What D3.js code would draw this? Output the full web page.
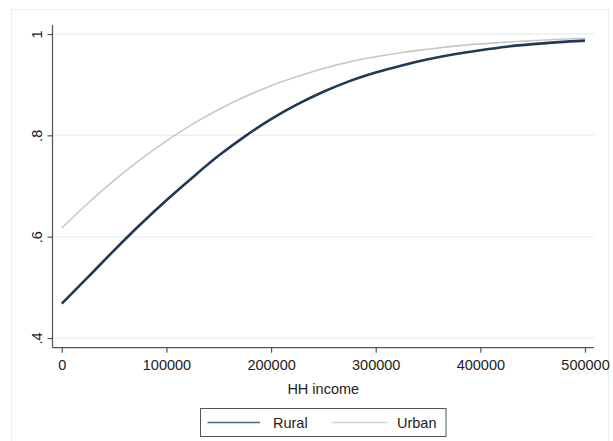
<!DOCTYPE html>
<html>
<head>
<meta charset="utf-8">
<script src="https://cdn.jsdelivr.net/npm/d3@7"></script>
<style>
  html, body { margin: 0; padding: 0; background: #fff; }
  svg { display: block; font-family: "Liberation Sans", Arial, sans-serif; }
</style>
</head>
<body>
<svg id="chart" width="613" height="441"></svg>
<script>
// ---- data ----
const income = [0, 25000, 50000, 75000, 100000, 125000, 150000, 175000, 200000, 225000,
  250000, 275000, 300000, 325000, 350000, 375000, 400000, 425000, 450000, 475000, 500000];
const rural = [0.468, 0.520, 0.573, 0.624, 0.672, 0.717, 0.760, 0.798, 0.832, 0.861,
  0.886, 0.907, 0.924, 0.938, 0.950, 0.960, 0.968, 0.975, 0.980, 0.984, 0.987];
const urban = [0.617, 0.666, 0.711, 0.752, 0.789, 0.822, 0.851, 0.876, 0.898, 0.916,
  0.932, 0.945, 0.955, 0.9635, 0.970, 0.976, 0.9805, 0.984, 0.987, 0.9897, 0.9917];
const xTicks = [0, 100000, 200000, 300000, 400000, 500000];
const yTicks = [0.4, 0.6, 0.8, 1];
const yTickLabels = [".4", ".6", ".8", "1"];
const seriesNames = ["Rural", "Urban"];
const xTitle = "HH income";

// ---- drawing ----
const svg = d3.select("#chart");
const colors = { Rural: "#1e3a56", Urban: "#c8c8c8" };
const legendColors = { Rural: "#41678d", Urban: "#d6d6d6" };

// outer graph region frame
svg.append("rect").attr("x", 11.5).attr("y", 9.5).attr("width", 597).attr("height", 440)
  .attr("fill", "#fff").attr("stroke", "#e6eff1").attr("stroke-width", 1);

const x = d3.scaleLinear().domain([0, 500000]).range([61.8, 585]);
const y = d3.scaleLinear().domain([0.4, 1]).range([338, 34]);
const plotL = 52.5, plotR = 594, plotT = 25, plotB = 347.7;

// gridlines
svg.append("g").selectAll("line").data(yTicks).join("line")
  .attr("x1", plotL).attr("x2", plotR)
  .attr("y1", d => y(d)).attr("y2", d => y(d))
  .attr("stroke", "#eaf2f3").attr("stroke-width", 1.5);

// y axis
const yAxis = d3.axisLeft(y).tickValues(yTicks).tickSize(5).tickPadding(0)
  .tickFormat((d, i) => yTickLabels[i]);
const gy = svg.append("g").attr("transform", `translate(${plotL},0)`).call(yAxis);
gy.select(".domain").attr("d", `M0,${plotT}V${plotB}`).attr("stroke", "#555").attr("stroke-width", 1.2);
gy.selectAll(".tick line").attr("stroke", "#555").attr("stroke-width", 1.2);
gy.selectAll(".tick text")
  .attr("x", 0).attr("y", 0).attr("dy", null)
  .attr("transform", "translate(-11,0) rotate(-90)")
  .attr("text-anchor", "middle")
  .attr("font-size", 14.5).attr("fill", "#222").attr("font-family", "Liberation Sans, Arial, sans-serif");

// x axis
const xAxis = d3.axisBottom(x).tickValues(xTicks).tickSize(5).tickPadding(0)
  .tickFormat(d => String(d));
const gx = svg.append("g").attr("transform", `translate(0,${plotB})`).call(xAxis);
gx.select(".domain").attr("d", `M${plotL},0H${plotR}`).attr("stroke", "#555").attr("stroke-width", 1.2);
gx.selectAll(".tick line").attr("stroke", "#555").attr("stroke-width", 1.2);
gx.selectAll(".tick text").attr("y", 22.5).attr("dy", null)
  .attr("font-size", 14.5).attr("fill", "#222").attr("font-family", "Liberation Sans, Arial, sans-serif");

// x title
svg.append("text").attr("x", (plotL + plotR) / 2).attr("y", 394)
  .attr("text-anchor", "middle").attr("font-size", 14.5).attr("fill", "#222").text(xTitle);

// lines
const line = d3.line().curve(d3.curveMonotoneX).x(d => x(d[0])).y(d => y(d[1]));
svg.append("path").datum(income.map((v, i) => [v, urban[i]]))
  .attr("d", line).attr("fill", "none").attr("stroke", colors.Urban).attr("stroke-width", 1.6);
svg.append("path").datum(income.map((v, i) => [v, rural[i]]))
  .attr("d", line).attr("fill", "none").attr("stroke", colors.Rural).attr("stroke-width", 2.6);

// legend
const lg = svg.append("g");
lg.append("rect").attr("x", 200.5).attr("y", 408.5).attr("width", 245.5).attr("height", 28)
  .attr("fill", "#fff").attr("stroke", "#555").attr("stroke-width", 1);
const legendItems = [
  { name: seriesNames[0], x1: 207.5, x2: 260, tx: 273 },
  { name: seriesNames[1], x1: 331.5, x2: 387.5, tx: 397 }
];
legendItems.forEach(it => {
  lg.append("line").attr("x1", it.x1).attr("x2", it.x2).attr("y1", 422.5).attr("y2", 422.5)
    .attr("stroke", legendColors[it.name]).attr("stroke-width", 1.6);
  lg.append("text").attr("x", it.tx).attr("y", 428).attr("font-size", 14.5).attr("fill", "#222").text(it.name);
});
</script>
</body>
</html>
